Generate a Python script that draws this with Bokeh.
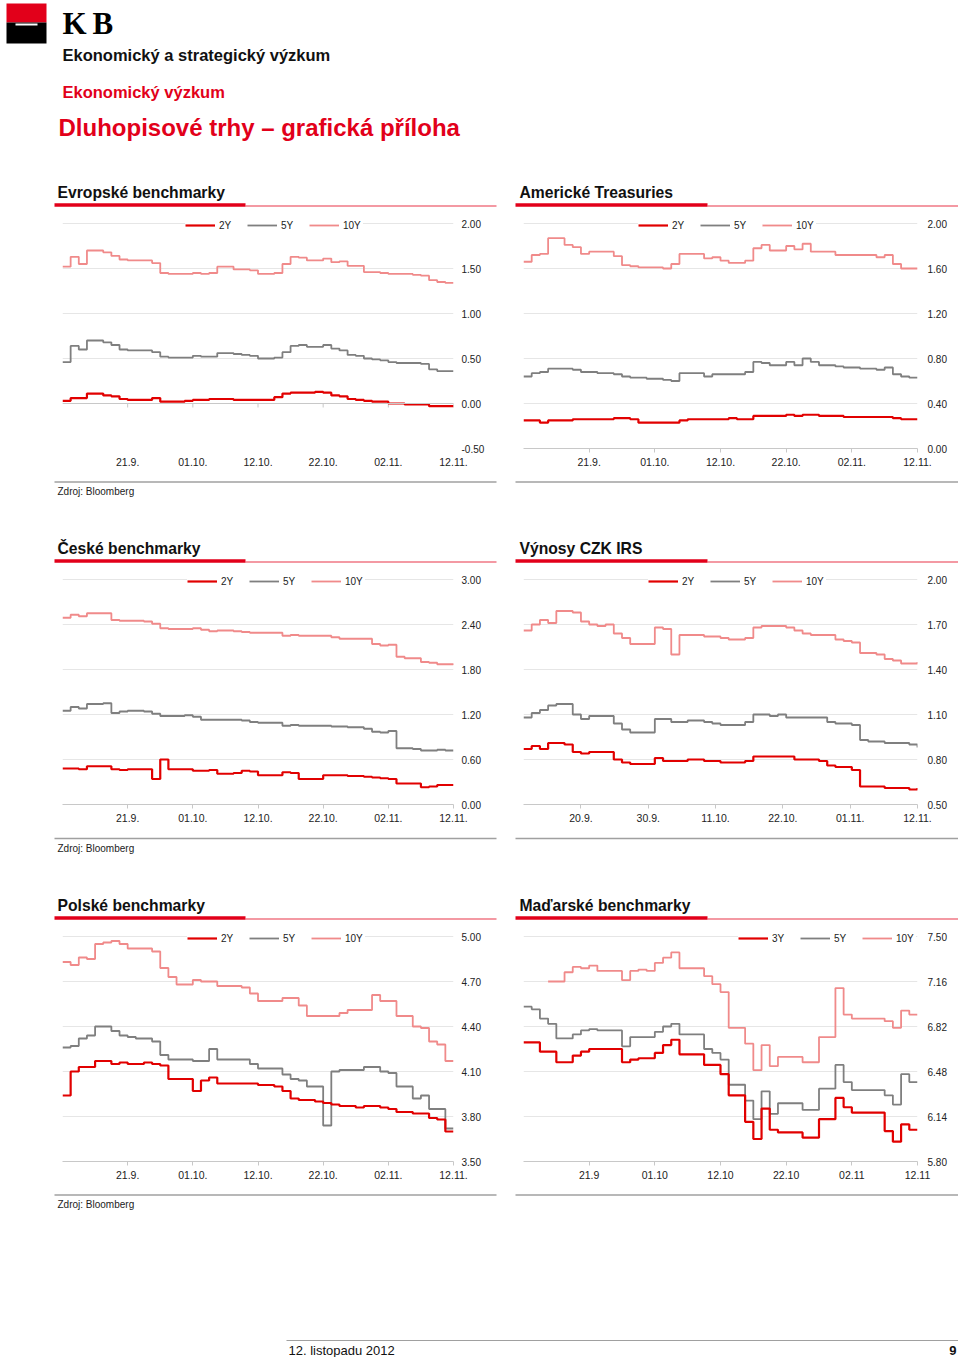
import math
from bokeh.plotting import figure
from bokeh.layouts import column, row
from bokeh.models import Range1d, FixedTicker, NumeralTickFormatter, Legend, LegendItem, Span
from bokeh.core.properties import value
from bokeh.embed import file_html
from bokeh.resources import INLINE

FONT = "Liberation Sans"
RED = "#e2001a"
nan = float("nan")

# x positions: 49 observations per chart (index units)
x_idx = list(range(49))

# ---------------- data ----------------
eu_2y = [0.03,0.06,0.06,0.11,0.11,0.09,0.08,0.05,0.04,0.04, 0.04,0.06,0.02,0.02,0.02,0.03,0.04,0.04,0.05,0.05,
         0.05,0.04,0.04,0.04,0.04,0.04,0.07,0.11,0.12,0.12, 0.12,0.13,0.12,0.09,0.08,0.05,0.04,0.03,0.02,0.02,
         0.00,0.00,-0.01,-0.01,-0.01,-0.03,-0.03,-0.03,-0.03]
eu_5y = [0.46,0.64,0.60,0.70,0.70,0.68,0.65,0.60,0.59,0.59, 0.59,0.57,0.52,0.51,0.51,0.51,0.53,0.52,0.52,0.56,
         0.56,0.55,0.54,0.53,0.50,0.50,0.51,0.57,0.64,0.65, 0.63,0.63,0.65,0.61,0.59,0.54,0.53,0.50,0.49,0.48,
         0.46,0.45,0.45,0.45,0.44,0.38,0.36,0.36,0.36]
eu_10y = [1.52,1.63,1.55,1.70,1.70,1.68,1.64,1.60,1.59,1.59, 1.59,1.56,1.45,1.44,1.44,1.44,1.45,1.44,1.45,1.52,
          1.52,1.49,1.49,1.48,1.44,1.44,1.45,1.55,1.63,1.62, 1.59,1.59,1.61,1.57,1.58,1.53,1.53,1.46,1.46,1.45,
          1.44,1.44,1.44,1.43,1.42,1.37,1.35,1.34,1.34]

us_2y = [0.25,0.25,0.23,0.25,0.25,0.25,0.26,0.26,0.26,0.26, 0.26,0.27,0.27,0.26,0.23,0.23,0.23,0.23,0.23,0.25,
         0.26,0.26,0.26,0.26,0.26,0.27,0.26,0.26,0.29,0.29, 0.29,0.29,0.30,0.29,0.30,0.30,0.29,0.29,0.29,0.28,
         0.28,0.28,0.28,0.28,0.28,0.27,0.26,0.26,0.26]
us_5y = [0.64,0.67,0.68,0.71,0.71,0.71,0.70,0.68,0.68,0.67, 0.67,0.66,0.64,0.63,0.63,0.62,0.62,0.61,0.60,0.67,
         0.67,0.67,0.64,0.66,0.66,0.66,0.66,0.68,0.77,0.76, 0.74,0.74,0.77,0.74,0.80,0.77,0.74,0.74,0.73,0.72,
         0.72,0.71,0.71,0.70,0.72,0.66,0.64,0.63,0.63]
us_10y = [1.66,1.72,1.73,1.87,1.87,1.81,1.79,1.73,1.75,1.75, 1.75,1.71,1.63,1.62,1.61,1.61,1.61,1.60,1.64,1.73,
          1.73,1.73,1.69,1.70,1.67,1.65,1.65,1.67,1.78,1.81, 1.76,1.76,1.80,1.77,1.82,1.75,1.75,1.75,1.72,1.72,
          1.72,1.72,1.72,1.70,1.72,1.64,1.60,1.60,1.60]

cz_2y = [0.48,0.48,0.47,0.51,0.51,0.51,0.47,0.46,0.47,0.47, 0.47,0.34,0.60,0.47,0.47,0.47,0.45,0.45,0.46,0.41,
         0.41,0.42,0.45,0.44,0.39,0.39,0.39,0.43,0.42,0.34, 0.34,0.34,0.39,0.39,0.39,0.38,0.38,0.37,0.36,0.35,
         0.34,0.28,0.28,0.28,0.23,0.24,0.26,0.26,0.26]
cz_5y = [1.25,1.30,1.28,1.34,1.34,1.35,1.22,1.24,1.25,1.25, 1.24,1.21,1.18,1.18,1.18,1.19,1.17,1.13,1.13,1.13,
         1.13,1.13,1.12,1.10,1.09,1.09,1.09,1.05,1.06,1.05, 1.05,1.05,1.05,1.04,1.04,1.03,1.03,1.01,0.97,0.96,
         0.98,0.75,0.75,0.74,0.72,0.72,0.73,0.72,0.72]
cz_10y = [2.49,2.53,2.51,2.55,2.55,2.55,2.46,2.45,2.45,2.45, 2.44,2.41,2.35,2.34,2.34,2.34,2.35,2.33,2.31,2.32,
          2.32,2.31,2.30,2.29,2.29,2.29,2.29,2.25,2.26,2.25, 2.25,2.25,2.25,2.23,2.21,2.21,2.21,2.21,2.14,2.12,
          2.13,1.97,1.95,1.95,1.90,1.89,1.87,1.87,1.86]

irs_2y = [0.87,0.89,0.87,0.91,0.91,0.90,0.85,0.84,0.85,0.85, 0.85,0.80,0.78,0.77,0.77,0.77,0.81,0.79,0.79,0.79,
          0.80,0.80,0.79,0.79,0.78,0.78,0.78,0.79,0.82,0.82, 0.82,0.82,0.82,0.80,0.80,0.80,0.79,0.76,0.75,0.75,
          0.73,0.62,0.62,0.62,0.61,0.61,0.61,0.60,0.61]
irs_5y = [1.08,1.11,1.13,1.16,1.17,1.17,1.10,1.07,1.09,1.09, 1.09,1.04,1.00,0.98,0.98,0.98,1.07,1.07,1.05,1.05,
          1.06,1.06,1.05,1.04,1.03,1.03,1.03,1.05,1.10,1.10, 1.09,1.10,1.08,1.08,1.08,1.08,1.08,1.05,1.04,1.04,
          1.03,0.93,0.92,0.92,0.91,0.91,0.91,0.90,0.88]
irs_10y = [1.66,1.70,1.73,1.71,1.79,1.79,1.78,1.72,1.70,1.69, 1.70,1.64,1.61,1.57,1.57,1.57,1.68,1.67,1.50,1.63,
           1.63,1.63,1.62,1.62,1.61,1.60,1.60,1.61,1.68,1.69, 1.69,1.69,1.68,1.66,1.64,1.63,1.63,1.63,1.60,1.59,
           1.58,1.51,1.51,1.50,1.47,1.46,1.44,1.44,1.45]

pl_2y = [3.94,4.10,4.13,4.13,4.17,4.17,4.15,4.16,4.15,4.15, 4.16,4.15,4.14,4.05,4.05,4.05,3.97,4.04,4.06,4.02,
         4.02,4.02,4.02,4.02,4.01,4.01,4.00,3.97,3.92,3.91, 3.91,3.90,3.89,3.88,3.87,3.87,3.86,3.87,3.87,3.86,
         3.85,3.83,3.83,3.82,3.82,3.79,3.78,3.70,3.70]
pl_5y = [4.26,4.27,4.32,4.34,4.40,4.40,4.37,4.34,4.33,4.32, 4.32,4.30,4.21,4.18,4.18,4.18,4.17,4.17,4.25,4.18,
         4.18,4.18,4.18,4.15,4.12,4.12,4.12,4.08,4.05,4.04, 4.00,4.00,3.74,4.10,4.11,4.11,4.11,4.13,4.13,4.10,
         4.09,4.00,4.00,3.92,3.94,3.85,3.85,3.72,3.72]
pl_10y = [4.83,4.81,4.86,4.85,4.95,4.96,4.97,4.95,4.92,4.92, 4.92,4.90,4.79,4.73,4.68,4.68,4.71,4.70,4.70,4.67,
          4.67,4.67,4.66,4.62,4.57,4.57,4.57,4.59,4.59,4.54, 4.47,4.47,4.47,4.47,4.49,4.51,4.51,4.51,4.61,4.57,
          4.57,4.47,4.47,4.40,4.39,4.30,4.28,4.17,4.17]

hu_3y = [6.70,6.70,6.63,6.63,6.55,6.55,6.60,6.63,6.65,6.65, 6.65,6.65,6.55,6.57,6.58,6.58,6.62,6.68,6.72,6.61,
         6.61,6.61,6.53,6.53,6.46,6.30,6.30,6.10,5.97,6.20, 6.04,6.02,6.02,6.02,5.98,5.98,6.12,6.12,6.28,6.21,
         6.17,6.17,6.17,6.17,6.03,5.95,6.08,6.04,6.04]
hu_5y = [6.97,6.95,6.88,6.84,6.73,6.73,6.76,6.79,6.80,6.79, 6.79,6.79,6.67,6.74,6.74,6.74,6.78,6.82,6.84,6.76,
         6.76,6.76,6.65,6.62,6.57,6.38,6.38,6.26,6.12,6.33, 6.16,6.24,6.24,6.24,6.19,6.19,6.35,6.35,6.53,6.40,
         6.34,6.34,6.34,6.34,6.30,6.23,6.46,6.40,6.40]
hu_10y = [nan,nan,nan,7.16,7.16,7.23,7.27,7.26,7.28,7.24, 7.24,7.24,7.17,7.24,7.25,7.24,7.30,7.34,7.38,7.26,
          7.26,7.26,7.20,7.14,7.08,6.81,6.81,6.69,6.49,6.68, 6.52,6.59,6.59,6.59,6.55,6.55,6.74,6.74,7.11,6.91,
          6.88,6.88,6.88,6.88,6.86,6.81,6.94,6.91,6.91]

for s in [eu_2y, eu_5y, eu_10y, us_2y, us_5y, us_10y, cz_2y, cz_5y, cz_10y,
          irs_2y, irs_5y, irs_10y, pl_2y, pl_5y, pl_10y, hu_3y, hu_5y, hu_10y]:
    assert len(s) == 49, len(s)

# axis ticks / labels
std_xpos = [8, 16, 24, 32, 40, 48]
irs_xpos = [7.0, 15.2, 23.4, 31.6, 39.8, 48.0]
lab_dot = ["21.9.", "01.10.", "12.10.", "22.10.", "02.11.", "12.11."]
lab_irs = ["20.9.", "30.9.", "11.10.", "22.10.", "01.11.", "12.11."]
lab_hu = ["21.9", "01.10", "12.10", "22.10", "02.11", "12.11"]

eu_yticks = [-0.5, 0.0, 0.5, 1.0, 1.5, 2.0]
us_yticks = [0.0, 0.4, 0.8, 1.2, 1.6, 2.0]
cz_yticks = [0.0, 0.6, 1.2, 1.8, 2.4, 3.0]
irs_yticks = [0.5, 0.8, 1.1, 1.4, 1.7, 2.0]
pl_yticks = [3.5, 3.8, 4.1, 4.4, 4.7, 5.0]
hu_yticks = [5.80, 6.14, 6.48, 6.82, 7.16, 7.50]

names_std = ["2Y", "5Y", "10Y"]
names_hu = ["3Y", "5Y", "10Y"]
COLORS = ["#e10000", "#7f7f7f", "#f08a8a"]
WIDTHS = [2.2, 1.8, 1.8]

PAGE_W = 958


def deco(top, h):
    """Decoration strip; its y coordinates are page pixels (top..top+h)."""
    p = figure(width=PAGE_W, height=h, x_range=Range1d(0, PAGE_W), y_range=Range1d(top + h, top),
               min_border=0, min_border_left=0, min_border_right=0, min_border_top=0, min_border_bottom=0,
               toolbar_location=None, output_backend="svg", x_axis_location=None, y_axis_location=None,
               title=None)
    p.grid.visible = False
    p.outline_line_color = None
    return p


def txt(p, x, y, t, size, color="#111111", bold=False, align="left", font=FONT):
    p.text(x=[x], y=[y], text=[t], text_font=value(font), text_font_size=size,
           text_font_style="bold" if bold else "normal", text_color=color,
           text_align=align, text_baseline="middle")


def panel_titles(p, mid, line_y, left_title, right_title):
    txt(p, 57, mid, left_title, "15.7px", bold=True)
    txt(p, 519, mid, right_title, "15.7px", bold=True)
    for a, b, c in [(54, 245, 496), (515, 707, 958)]:
        p.segment(x0=[b], y0=[line_y + 1], x1=[c], y1=[line_y + 1], line_color=RED, line_width=1, line_alpha=0.8)
        p.segment(x0=[a], y0=[line_y], x1=[b], y1=[line_y], line_color=RED, line_width=3.5)


def panel_footers(p, y_rule):
    p.segment(x0=[54], y0=[y_rule], x1=[496], y1=[y_rule], line_color="#a0a0a0", line_width=1.5)
    p.segment(x0=[515], y0=[y_rule], x1=[958], y1=[y_rule], line_color="#a0a0a0", line_width=1.5)
    txt(p, 57, y_rule + 9.5, "Zdroj: Bloomberg", "10px", color="#222222")


def chart(left, yticks, xpos, xlabels, names, series, leg_x, zero_axis=False):
    if left:
        w, bl, br, ystand = 508, 62, 55, 8
    else:
        w, bl, br, ystand = 450, 15, 41, 10
    top, bot = yticks[-1], yticks[0]
    ppu = 225.0 / (top - bot)
    p = figure(width=w, height=262, x_range=Range1d(0, 48), y_range=Range1d(bot, top + 10.0 / ppu),
               min_border_left=bl, min_border_right=br, min_border_top=0, min_border_bottom=27,
               y_axis_location="right", toolbar_location=None, output_backend="svg", title=None)
    p.outline_line_color = None
    p.xgrid.visible = False
    p.ygrid.ticker = FixedTicker(ticks=yticks)
    p.ygrid.grid_line_color = "#e6e6e6"
    p.ygrid.grid_line_width = 1

    ya = p.yaxis[0]
    ya.ticker = FixedTicker(ticks=yticks)
    ya.formatter = NumeralTickFormatter(format="0.00")
    ya.axis_line_color = None
    ya.major_tick_line_color = None
    ya.minor_tick_line_color = None
    ya.major_tick_in = 0
    ya.major_tick_out = 0
    ya.minor_tick_in = 0
    ya.minor_tick_out = 0
    ya.major_label_standoff = ystand
    ya.major_label_text_font = FONT
    ya.major_label_text_font_size = "10px"
    ya.major_label_text_color = "#222222"

    xa = p.xaxis[0]
    xa.ticker = FixedTicker(ticks=xpos)
    xa.major_label_overrides = {xp: lb for xp, lb in zip(xpos, xlabels)}
    xa.axis_line_color = "#c8c8c8"
    xa.major_tick_line_color = "#c8c8c8"
    xa.major_tick_in = 0
    xa.major_tick_out = 4
    xa.minor_tick_line_color = None
    xa.minor_tick_in = 0
    xa.minor_tick_out = 0
    xa.major_label_standoff = 5
    xa.major_label_text_font = FONT
    xa.major_label_text_font_size = "10.5px"
    xa.major_label_text_color = "#222222"

    if zero_axis:
        xa.axis_line_color = None
        xa.major_tick_line_color = None
        xa.major_tick_out = 0
        xa.major_label_standoff = 9
        p.add_layout(Span(location=0, dimension="width", line_color="#c8c8c8", line_width=1))
        p.segment(x0=xpos, y0=[0] * len(xpos), x1=xpos, y1=[-4.0 / ppu] * len(xpos),
                  line_color="#c8c8c8", line_width=1)

    rends = {}
    for k in [2, 1, 0]:
        rends[k] = p.step(x=x_idx, y=series[k], mode="after", line_color=COLORS[k], line_width=WIDTHS[k])
    items = [LegendItem(label=names[k], renderers=[rends[k]]) for k in range(3)]
    leg = Legend(items=items, location=(leg_x, 217), orientation="horizontal",
                 glyph_width=30, glyph_height=12, label_height=12, label_standoff=4, spacing=8,
                 padding=2, margin=0, background_fill_color="white", background_fill_alpha=1.0,
                 border_line_color=None, label_text_font=FONT, label_text_font_size="10px",
                 label_text_color="#222222")
    p.add_layout(leg)
    return p


# ---------------- header + first titles (page y 0..213) ----------------
head = deco(0, 213)
head.quad(left=[6], right=[46], top=[3], bottom=[22], fill_color=RED, line_color=None)
head.quad(left=[6], right=[46], top=[22], bottom=[43], fill_color="#000000", line_color=None)
head.segment(x0=[15], y0=[24], x1=[37], y1=[24], line_color="white", line_width=2)
txt(head, 62, 23, "K", "31px", color="#000000", bold=True, font="Liberation Serif")
txt(head, 92, 23, "B", "31px", color="#000000", bold=True, font="Liberation Serif")
txt(head, 62, 54, "Ekonomický a strategický výzkum", "16.5px", color="#111111", bold=True)
txt(head, 62, 91.5, "Ekonomický výzkum", "16.5px", color=RED, bold=True)
txt(head, 58, 127, "Dluhopisové trhy – grafická příloha", "24px", color=RED, bold=True)
panel_titles(head, 191.5, 204.5, "Evropské benchmarky", "Americké Treasuries")

row1 = row(chart(True, eu_yticks, std_xpos, lab_dot, names_std, [eu_2y, eu_5y, eu_10y], 123, zero_axis=True),
           chart(False, us_yticks, std_xpos, lab_dot, names_std, [us_2y, us_5y, us_10y], 115))

mid1 = deco(475, 94)
panel_footers(mid1, 481.5)
panel_titles(mid1, 547.5, 560.5, "České benchmarky", "Výnosy CZK IRS")

row2 = row(chart(True, cz_yticks, std_xpos, lab_dot, names_std, [cz_2y, cz_5y, cz_10y], 125),
           chart(False, irs_yticks, irs_xpos, lab_irs, names_std, [irs_2y, irs_5y, irs_10y], 125))

mid2 = deco(831, 95)
panel_footers(mid2, 838)
panel_titles(mid2, 904.5, 917.5, "Polské benchmarky", "Maďarské benchmarky")

row3 = row(chart(True, pl_yticks, std_xpos, lab_dot, names_std, [pl_2y, pl_5y, pl_10y], 125),
           chart(False, hu_yticks, std_xpos, lab_hu, names_hu, [hu_3y, hu_5y, hu_10y], 215))

# ---------------- last source line + page footer ----------------
foot = deco(1188, 169)
panel_footers(foot, 1194.5)
foot.segment(x0=[286], y0=[1340], x1=[958], y1=[1340], line_color="#a0a0a0", line_width=1.2)
txt(foot, 288, 1350, "12. listopadu 2012", "13px", color="#111111")
txt(foot, 956, 1350, "9", "13px", color="#111111", bold=True, align="right")

page = column(head, row1, mid1, row2, mid2, row3, foot)

open("out.html", "w").write(file_html(page, INLINE))
